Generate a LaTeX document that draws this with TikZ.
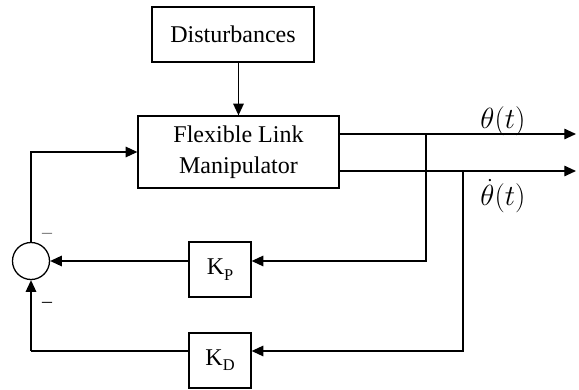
\documentclass[tikz,border=0pt]{standalone}
\usepackage{fontspec}
\setmainfont{Liberation Serif}
\usepackage{tikz}
\usetikzlibrary{arrows.meta}

\begin{document}
\begin{tikzpicture}[x=0.03cm,y=-0.03cm]
  \tikzset{blockbox/.style={draw=black,line width=1.1pt,fill=white,inner sep=0pt,align=center,font=\fontsize{20.5}{24}\selectfont}}
  \tikzset{sumjunction/.style={circle,draw=black,line width=1.1pt,inner sep=0pt,minimum size=1.11cm}}
  \tikzset{sigline/.style={draw=black,line width=1.1pt,-{Triangle[length=10pt,width=9pt]}}}
  \tikzset{plainline/.style={draw=black,line width=1.1pt}}
  \tikzset{signlabel/.style={font=\fontsize{17}{17}\selectfont,inner sep=0pt}}
  \tikzset{outlabel/.style={font=\fontsize{24}{28}\selectfont,inner sep=0pt}}
  \useasboundingbox (0,0) rectangle (579,390);
  \node[blockbox,minimum width=4.86cm,minimum height=1.65cm] (dist) at (233,34.5) {Disturbances};
  \node[blockbox,minimum width=6.03cm,minimum height=2.16cm,font=\fontsize{20.5}{26}\selectfont] (flm) at (238.5,152) {Flexible Link\\Manipulator};
  \node[blockbox,minimum width=1.86cm,minimum height=1.65cm] (kp) at (220,269.5) {K\raisebox{-0.22em}{\fontsize{14}{14}\selectfont P}};
  \node[blockbox,minimum width=1.86cm,minimum height=1.65cm] (kd) at (220,360.5) {K\raisebox{-0.22em}{\fontsize{14}{14}\selectfont D}};
  \node[sumjunction] (sum) at (31,261) {};
  \coordinate (thout) at (576,134);
  \coordinate (thdout) at (576,171);
  \coordinate (pbranch) at (426,134);
  \coordinate (dbranch) at (463,171);
  \coordinate (dcorner) at (31,351);
  \draw[sigline] (flm.north |- dist.south) -- (flm.north);
  \draw[sigline] (flm.east |- thout) -- (thout);
  \draw[sigline] (flm.east |- thdout) -- (thdout);
  \draw[sigline] (pbranch) |- (kp.east |- sum);
  \draw[sigline] (kp.west |- sum) -- (sum.east);
  \draw[sigline] (dbranch) |- (kd.east |- dcorner);
  \draw[plainline] (kd.west |- dcorner) -- (dcorner);
  \draw[sigline] (dcorner) -- (sum.south);
  \draw[sigline] (sum.north) |- (flm.west);
  \node[outlabel] (thlabel) at (503,121) {$\theta(t)$};
  \node[outlabel] (thdlabel) at (503,196) {$\dot{\theta}(t)$};
  \node[signlabel,text=black!55] (minusp) at (47,236) {–};
  \node[signlabel] (minusd) at (47,305) {–};
\end{tikzpicture}
\end{document}
